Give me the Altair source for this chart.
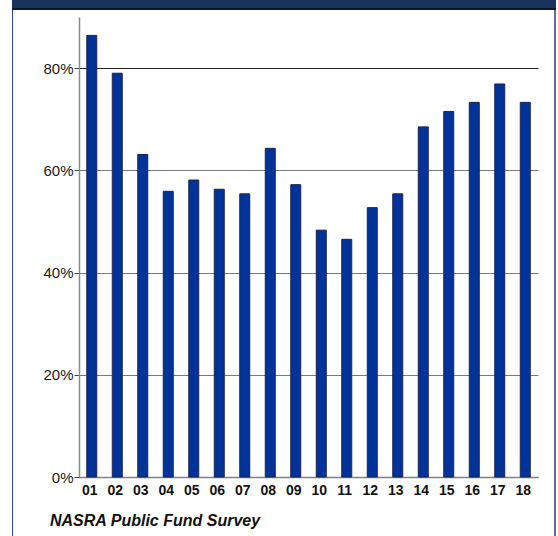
import altair as alt
import pandas as pd

years = ["01", "02", "03", "04", "05", "06", "07", "08", "09",
         "10", "11", "12", "13", "14", "15", "16", "17", "18"]
values = [86.4, 79.0, 63.1, 55.9, 58.1, 56.3, 55.4, 64.3, 57.2,
          48.3, 46.5, 52.7, 55.4, 68.5, 71.5, 73.3, 76.9, 73.3]
y_ticks = [0, 20, 40, 60, 80]
source_label = "NASRA Public Fund Survey"

df = pd.DataFrame({"year": years, "value": values})
one = pd.DataFrame({"a": [0]})

FONT = "Liberation Sans"

bars = alt.Chart(df).mark_bar(
    size=10, color="#003399", stroke="#1c2450", strokeWidth=1
).encode(
    x=alt.X("year:N", sort=years,
            scale=alt.Scale(paddingInner=0, paddingOuter=0),
            axis=alt.Axis(title=None, labelAngle=0, ticks=False,
                          labelFont=FONT, labelFontSize=14, labelFontWeight="bold",
                          labelColor="#111", labelPadding=6, labelOffset=-2,
                          domainColor="#808080", domainWidth=1.5, grid=False)),
    y=alt.Y("value:Q",
            scale=alt.Scale(domain=[0, 90], nice=False),
            axis=alt.Axis(title=None, values=y_ticks,
                          labelExpr="datum.value + '%'",
                          labelFont=FONT, labelFontSize=15, labelColor="#1a1a1a",
                          labelPadding=1, tickSize=5, tickColor="#444",
                          domainColor="#8a8a8a", domainWidth=1.5,
                          grid=True,
                          gridColor=alt.condition("datum.value == 80",
                                                  alt.value("#222222"),
                                                  alt.value("#7a7a7a")),
                          gridWidth=1)),
)

band = alt.Chart(one).mark_rect(color="#17345e").encode(
    x=alt.value(-67), x2=alt.value(477), y=alt.value(-17), y2=alt.value(-9))
band_line = alt.Chart(one).mark_rect(color="#0c1628").encode(
    x=alt.value(-67), x2=alt.value(477), y=alt.value(-9), y2=alt.value(-7))
left_border = alt.Chart(one).mark_rule(color="#2b4a8c", strokeWidth=1).encode(
    x=alt.value(-66.5), y=alt.value(-7), y2=alt.value(519))
right_border = alt.Chart(one).mark_rule(color="#5b6e9c", strokeWidth=2).encode(
    x=alt.value(476), y=alt.value(-7), y2=alt.value(519))

footer = alt.Chart(pd.DataFrame({"t": [source_label]})).mark_text(
    font=FONT, fontSize=16, fontWeight="bold", fontStyle="italic",
    align="left", baseline="alphabetic", color="#111"
).encode(text="t:N", x=alt.value(-29), y=alt.value(509))

chart = alt.layer(band, band_line, left_border, right_border, bars, footer).properties(
    width=459, height=460,
    autosize=alt.AutoSizeParams(type="none"),
    padding={"left": 79, "top": 17, "right": 20, "bottom": 59},
    background="white",
).configure_view(stroke=None)

chart.save("out.html", embed_options={"renderer": "svg", "actions": False})
